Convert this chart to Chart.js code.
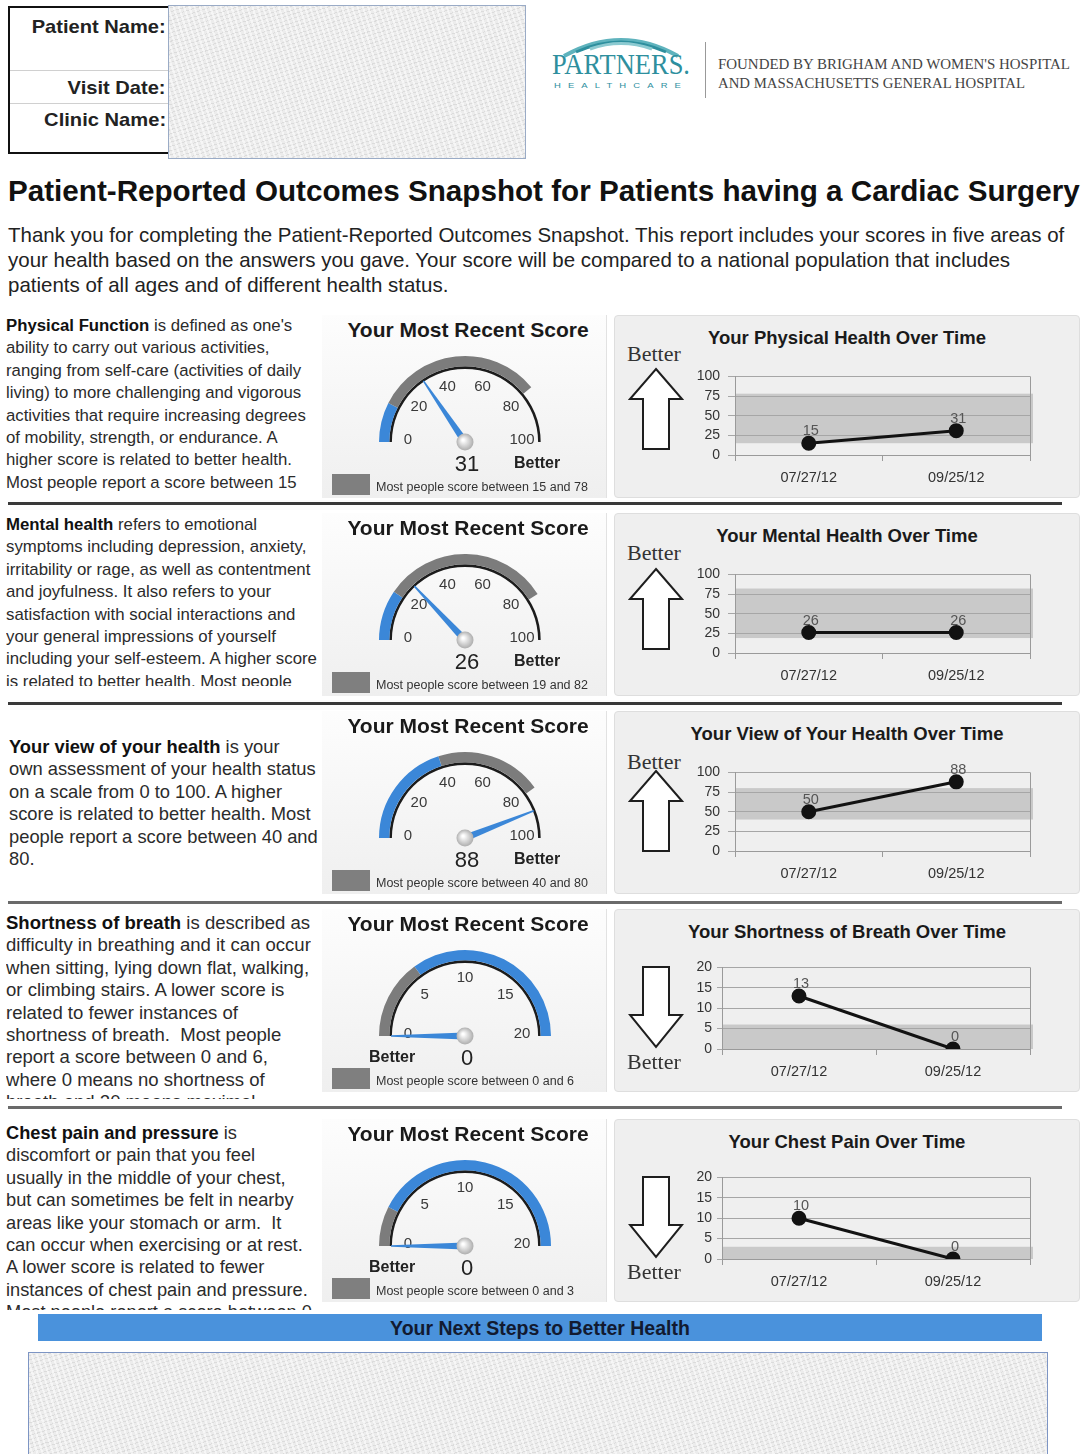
<!DOCTYPE html>
<html>
<head>
<meta charset="utf-8">
<script src="https://cdn.jsdelivr.net/npm/chart.js@4.4.0/dist/chart.umd.min.js"></script>
<style>
body { margin: 0; width: 1086px; height: 1454px; position: relative; overflow: hidden; background: #fff; font-family: Arial, "Liberation Sans", sans-serif; color: #222; }
.abs { position: absolute; }
.noise { background-color: #ececec; background-image: repeating-linear-gradient(72deg, rgba(255,255,255,.55) 0 2px, transparent 2px 5px), repeating-linear-gradient(-18deg, rgba(170,170,170,.25) 0 1px, transparent 1px 4px); }
.lbl { font-weight: bold; font-size: 19px; white-space: nowrap; transform-origin: right center; }
.desc { white-space: nowrap; line-height: 22.4px; font-size: 16px; color: #2b2b2b; overflow: hidden; }
.desc b { color: #111; }
.gpanel { background: linear-gradient(#fdfdfd, #efefef); border-right: 1px solid #e2e2e2; }
.lpanel { background: #efefef; border: 1px solid #dedede; border-radius: 4px; box-sizing: border-box; }
.serif { font-family: "Liberation Serif", "DejaVu Serif", serif; }
</style>
</head>
<body>

<!-- header -->
<div class="abs" style="left:8px;top:6px;width:170px;height:144px;border:2px solid #111;"></div>
<div class="abs" style="left:10px;top:70px;width:160px;height:1px;background:#d0d0d0;"></div>
<div class="abs" style="left:10px;top:103px;width:160px;height:1px;background:#d0d0d0;"></div>
<div class="abs lbl fitx" data-w="134" style="right:920px;top:16px;">Patient Name:</div>
<div class="abs lbl fitx" data-w="98" style="right:920px;top:77px;">Visit Date:</div>
<div class="abs lbl fitx" data-w="122" style="right:920px;top:109px;">Clinic Name:</div>
<div class="abs noise" style="left:168px;top:5px;width:356px;height:152px;border:1px solid #9aabc6;"></div>

<svg class="abs" style="left:556px;top:30px" width="130" height="28">
  <path d="M8 26 Q65 -6 122 26" fill="none" stroke="#5fb3bd" stroke-width="4"/>
  <path d="M20 22 Q65 2 110 22" fill="none" stroke="#2e8f9e" stroke-width="3"/>
  <path d="M34 19 Q65 8 96 19" fill="none" stroke="#8ccad1" stroke-width="3"/>
</svg>
<div class="abs serif fitxl" data-w="138" style="left:552px;top:47px;font-size:30px;color:#2e8f9e;white-space:nowrap;transform-origin:left center;">PARTNERS.</div>
<div class="abs fitxl" data-w="134" style="left:554px;top:81px;font-size:8px;letter-spacing:6px;color:#2e8f9e;white-space:nowrap;transform-origin:left center;">HEALTHCARE</div>
<div class="abs" style="left:705px;top:42px;width:1px;height:56px;background:#999;"></div>
<div class="abs serif fitxl" data-w="352" style="left:718px;top:57px;font-size:14px;color:#444;white-space:nowrap;transform-origin:left center;">FOUNDED BY BRIGHAM AND WOMEN'S HOSPITAL</div>
<div class="abs serif fitxl" data-w="307" style="left:718px;top:76px;font-size:14px;color:#444;white-space:nowrap;transform-origin:left center;">AND MASSACHUSETTS GENERAL HOSPITAL</div>

<!-- title and intro -->
<div class="abs" id="title" style="left:8px;top:174px;font-size:28px;font-weight:bold;white-space:nowrap;color:#111;">Patient-Reported Outcomes Snapshot for Patients having a Cardiac Surgery</div>
<div class="abs" id="intro" style="left:8px;top:222px;font-size:19.5px;line-height:25px;white-space:nowrap;color:#222;">
<span id="intro1">Thank you for completing the Patient-Reported Outcomes Snapshot. This report includes your scores in five areas of</span><br>your health based on the answers you gave. Your score will be compared to a national population that includes<br>patients of all ages and of different health status.</div>

<!-- descriptions -->
<div class="abs desc" data-w="300" style="left:6px;top:315px;height:180px;"><b>Physical Function</b> is defined as one's<br>ability to carry out various activities,<br>ranging from self-care (activities of daily<br>living) to more challenging and vigorous<br>activities that require increasing degrees<br>of mobility, strength, or endurance. A<br>higher score is related to better health.<br>Most people report a score between 15<br>and 78.</div>
<div class="abs desc" data-w="311" style="left:6px;top:514px;height:172px;"><b>Mental health</b> refers to emotional<br>symptoms including depression, anxiety,<br>irritability or rage, as well as contentment<br>and joyfulness. It also refers to your<br>satisfaction with social interactions and<br>your general impressions of yourself<br>including your self-esteem. A higher score<br>is related to better health. Most people</div>
<div class="abs desc" data-w="309" style="left:9px;top:736px;font-size:18px;"><b>Your view of your health</b> is your<br>own assessment of your health status<br>on a scale from 0 to 100. A higher<br>score is related to better health. Most<br>people report a score between 40 and<br>80.</div>
<div class="abs desc" data-w="305" style="left:6px;top:912px;height:187px;font-size:18px;"><b>Shortness of breath</b> is described as<br>difficulty in breathing and it can occur<br>when sitting, lying down flat, walking,<br>or climbing stairs. A lower score is<br>related to fewer instances of<br>shortness of breath.&nbsp; Most people<br>report a score between 0 and 6,<br>where 0 means no shortness of<br>breath and 20 means maximal</div>
<div class="abs desc" data-w="306" style="left:6px;top:1122px;height:188px;font-size:18px;"><b>Chest pain and pressure</b> is<br>discomfort or pain that you feel<br>usually in the middle of your chest,<br>but can sometimes be felt in nearby<br>areas like your stomach or arm.&nbsp; It<br>can occur when exercising or at rest.<br>A lower score is related to fewer<br>instances of chest pain and pressure.<br>Most people report a score between 0</div>

<!-- separators -->
<div class="abs" style="left:8px;top:502px;width:1054px;height:3px;background:#3a3a3a;"></div>
<div class="abs" style="left:8px;top:702px;width:1054px;height:3px;background:#3a3a3a;"></div>
<div class="abs" style="left:8px;top:901px;width:1054px;height:3px;background:#6a6a6a;"></div>
<div class="abs" style="left:8px;top:1106px;width:1054px;height:3px;background:#6a6a6a;"></div>

<!-- next steps -->
<div class="abs" style="left:38px;top:1314px;width:1004px;height:27px;background:#4a92dc;text-align:center;font-weight:bold;font-size:19.5px;line-height:28px;color:#121a30;">Your Next Steps to Better Health</div>
<div class="abs noise" style="left:28px;top:1352px;width:1018px;height:110px;border:1px solid #7d95c4;"></div>

<script>
// --- DATOS ---
const visitDates = ['07/27/12', '09/25/12'];
const physicalScores = [15, 31];
const mentalScores = [26, 26];
const viewScores = [50, 88];
const breathScores = [13, 0];
const chestScores = [10, 0];

// rango "most people score between"
const physicalRange = [15, 78];
const mentalRange = [19, 82];
const viewRange = [40, 80];
const breathRange = [0, 6];
const chestRange = [0, 3];

const scoreTicks = [0, 25, 50, 75, 100];
const symptomTicks = [0, 5, 10, 15, 20];
const scoreDialLabels = [0, 20, 40, 60, 80, 100];
const symptomDialLabels = [0, 5, 10, 15, 20];

const BLUE = '#3b87d8';
const GRAY = '#7c7c7c';

const rows = [
    { top: 315, title: 'Your Physical Health Over Time', scores: physicalScores, range: physicalRange, max: 100, ticks: scoreTicks, dial: scoreDialLabels, up: true, betterY: 39, arrowY: 52 },
    { top: 513, title: 'Your Mental Health Over Time', scores: mentalScores, range: mentalRange, max: 100, ticks: scoreTicks, dial: scoreDialLabels, up: true, betterY: 40, arrowY: 54 },
    { top: 711, title: 'Your View of Your Health Over Time', scores: viewScores, range: viewRange, max: 100, ticks: scoreTicks, dial: scoreDialLabels, up: true, betterY: 51, arrowY: 58 },
    { top: 909, title: 'Your Shortness of Breath Over Time', scores: breathScores, range: breathRange, max: 20, ticks: symptomTicks, dial: symptomDialLabels, up: false, betterY: 153, arrowY: 56 },
    { top: 1119, title: 'Your Chest Pain Over Time', scores: chestScores, range: chestRange, max: 20, ticks: symptomTicks, dial: symptomDialLabels, up: false, betterY: 153, arrowY: 56 }
];

function add(tag, cls, style, html) {
    const e = document.createElement(tag);
    e.className = 'abs ' + (cls || '');
    Object.entries(style).forEach(([k, v]) => { e.style[k] = typeof v === 'number' ? v + 'px' : v; });
    if (html !== undefined) e.innerHTML = html;
    document.body.appendChild(e);
    return e;
}

function addCanvas(left, top, w, h) {
    const c = add('canvas', '', { left, top, width: w, height: h });
    c.width = w; c.height = h;
    return c;
}

// ajustar anchos de texto
function fitSize(el, w) {
    const fs = parseFloat(getComputedStyle(el).fontSize);
    el.style.fontSize = (fs * w / el.getBoundingClientRect().width) + 'px';
}
document.querySelectorAll('.fitx, .fitxl').forEach(el => {
    el.style.transform = `scaleX(${el.dataset.w / el.getBoundingClientRect().width})`;
});
document.querySelectorAll('.desc').forEach(el => fitSize(el, +el.dataset.w));
fitSize(document.getElementById('title'), 1072);
(() => {
    const intro = document.getElementById('intro');
    const line = document.getElementById('intro1');
    const fs = parseFloat(getComputedStyle(intro).fontSize);
    intro.style.fontSize = (fs * 1057 / line.getBoundingClientRect().width) + 'px';
})();

// --- PLUGINS ---
const dialPlugin = {
    id: 'dial',
    afterDatasetsDraw(chart, args, opts) {
        const arc = chart.getDatasetMeta(0).data[0];
        const { x, y, outerRadius } = arc.getProps(['x', 'y', 'outerRadius'], true);
        const ctx = chart.ctx;
        const ang = v => Math.PI + (v / opts.max) * Math.PI;
        ctx.save();
        ctx.font = '15px Arial';
        ctx.fillStyle = '#3a3a3a';
        ctx.textAlign = 'center';
        ctx.textBaseline = 'middle';
        opts.labels.forEach(v => {
            const a = ang(v);
            ctx.fillText(String(v), x + Math.cos(a) * 57, y + Math.sin(a) * 56 - 2);
        });
        // aguja
        const a = ang(opts.value);
        const len = outerRadius * 0.86;
        const px = -Math.sin(a), py = Math.cos(a);
        ctx.beginPath();
        ctx.moveTo(x + px * 3.5, y + py * 3.5);
        ctx.lineTo(x + Math.cos(a) * len + px * 0.8, y + Math.sin(a) * len + py * 0.8);
        ctx.lineTo(x + Math.cos(a) * len - px * 0.8, y + Math.sin(a) * len - py * 0.8);
        ctx.lineTo(x - px * 3.5, y - py * 3.5);
        ctx.closePath();
        ctx.fillStyle = BLUE;
        ctx.fill();
        const g = ctx.createRadialGradient(x - 2, y - 2, 1, x, y, 9);
        g.addColorStop(0, '#ffffff');
        g.addColorStop(1, '#a9a9a9');
        ctx.beginPath();
        ctx.arc(x, y, 8.5, 0, Math.PI * 2);
        ctx.fillStyle = g;
        ctx.fill();
        ctx.restore();
    }
};

const bandPlugin = {
    id: 'band',
    beforeDraw(chart, args, opts) {
        const { ctx, chartArea: ca, scales: { y } } = chart;
        const top = y.getPixelForValue(opts.range[1]);
        const bot = y.getPixelForValue(opts.range[0]);
        ctx.save();
        ctx.fillStyle = '#c9c9c9';
        ctx.fillRect(ca.left, top, ca.right - ca.left + 3, bot - top);
        ctx.restore();
    },
    afterDatasetsDraw(chart) {
        const ctx = chart.ctx;
        const ds = chart.data.datasets[0];
        ctx.save();
        ctx.font = '14.5px Arial';
        ctx.fillStyle = '#555';
        ctx.textAlign = 'center';
        ctx.textBaseline = 'middle';
        chart.getDatasetMeta(0).data.forEach((pt, i) => {
            ctx.fillText(String(ds.data[i]), pt.x + 2, pt.y - 12);
        });
        ctx.restore();
    },
    afterDraw(chart) {
        const { ctx, chartArea: ca } = chart;
        ctx.save();
        ctx.strokeStyle = '#9a9a9a';
        ctx.lineWidth = 1;
        ctx.beginPath();
        ctx.moveTo(ca.right + 0.5, ca.top);
        ctx.lineTo(ca.right + 0.5, ca.bottom + 6);
        ctx.stroke();
        ctx.restore();
    }
};

const UP_ARROW = 'M28 2 L54 32 L41 32 L41 82 L15 82 L15 32 L2 32 Z';
const DOWN_ARROW = 'M15 2 L41 2 L41 50 L54 50 L28 82 L2 50 L15 50 Z';

// --- CONSTRUIR FILAS ---
rows.forEach(row => {
    const T = row.top;
    const latest = row.scores[row.scores.length - 1];

    // panel del indicador
    add('div', 'gpanel', { left: 322, top: T, width: 284, height: 183 });
    add('div', '', { left: 322, top: T + 2, width: 292, textAlign: 'center', fontWeight: 'bold', fontSize: 21, lineHeight: '26px', color: '#1a1a1a' }, 'Your Most Recent Score');
    const gc = addCanvas(345, T + 127 - 96, 240, 130);
    add('div', '', { left: 417, top: T + 136, width: 100, textAlign: 'center', fontSize: 22, lineHeight: '26px', color: '#222' }, String(latest));
    add('div', '', { left: row.up ? 514 : 369, top: T + 138, fontWeight: 'bold', fontSize: 16, lineHeight: '20px', color: '#222' }, 'Better');
    add('div', '', { left: 332, top: T + 159, width: 38, height: 21, background: '#7f7f7f' });
    add('div', '', { left: 376, top: T + 164, fontSize: 12.5, lineHeight: '16px', whiteSpace: 'nowrap', color: '#333' }, `Most people score between ${row.range[0]} and ${row.range[1]}`);

    const bandValues = row.up
        ? [row.range[0], row.range[1] - row.range[0], row.max - row.range[1]]
        : [row.range[1], row.max - row.range[1]];
    const bandColors = row.up ? [BLUE, GRAY, 'rgba(0,0,0,0)'] : [GRAY, BLUE];

    new Chart(gc, {
        type: 'doughnut',
        data: {
            datasets: [
                { data: bandValues, backgroundColor: bandColors, borderWidth: 0, weight: 10 },
                { data: [row.max], backgroundColor: ['#1c1c1c'], borderWidth: 0, weight: 2.5 }
            ]
        },
        options: {
            responsive: false,
            animation: false,
            events: [],
            rotation: -90,
            circumference: 180,
            cutout: '85%',
            hoverOffset: 0,
            layout: { padding: { left: 34, right: 34, top: 10, bottom: 34 } },
            plugins: {
                legend: { display: false },
                tooltip: { enabled: false },
                dial: { max: row.max, value: latest, labels: row.dial }
            }
        },
        plugins: [dialPlugin]
    });

    // panel de evolución
    add('div', 'lpanel', { left: 614, top: T, width: 466, height: 183 });
    add('div', '', { left: 614, top: T + 11, width: 466, textAlign: 'center', fontWeight: 'bold', fontSize: 18.5, lineHeight: '24px', color: '#1a1a1a', whiteSpace: 'nowrap' }, row.title);
    add('div', 'serif', { left: 627, top: T + row.betterY - 13, fontSize: 22, lineHeight: '26px', color: '#333' }, 'Better');
    add('div', '', { left: 628, top: T + row.arrowY }, `<svg width="56" height="86"><path d="${row.up ? UP_ARROW : DOWN_ARROW}" fill="#fff" stroke="#1e1e1e" stroke-width="2" stroke-linejoin="miter"/></svg>`);

    const lc = addCanvas(680, T + 45, 365, 130);
    const yw = row.up ? 55 : 42;
    new Chart(lc, {
        type: 'line',
        data: {
            labels: visitDates,
            datasets: [{
                data: row.scores,
                borderColor: '#121212',
                borderWidth: 3,
                pointRadius: 6,
                pointBackgroundColor: '#121212',
                pointBorderColor: '#121212',
                tension: 0
            }]
        },
        options: {
            responsive: false,
            animation: false,
            events: [],
            layout: { padding: { top: 8, right: 15, left: 0, bottom: 0 } },
            plugins: {
                legend: { display: false },
                tooltip: { enabled: false },
                band: { range: row.range }
            },
            scales: {
                x: {
                    offset: true,
                    grid: { offset: true, drawOnChartArea: false, color: '#9a9a9a', tickLength: 6 },
                    border: { color: '#9a9a9a' },
                    ticks: { color: '#333', font: { family: 'Arial', size: 14.5 }, padding: 8, maxRotation: 0 },
                    afterFit: s => { s.height = 35; }
                },
                y: {
                    min: 0,
                    max: row.max,
                    afterBuildTicks: s => { s.ticks = row.ticks.map(v => ({ value: v })); },
                    grid: { color: '#a6a6a6', tickLength: row.up ? 7 : 5 },
                    border: { color: '#9a9a9a' },
                    ticks: { color: '#333', font: { family: 'Arial', size: 14 }, padding: row.up ? 8 : 5, autoSkip: false },
                    afterFit: s => { s.width = yw; }
                }
            }
        },
        plugins: [bandPlugin]
    });
});
</script>
</body>
</html>
